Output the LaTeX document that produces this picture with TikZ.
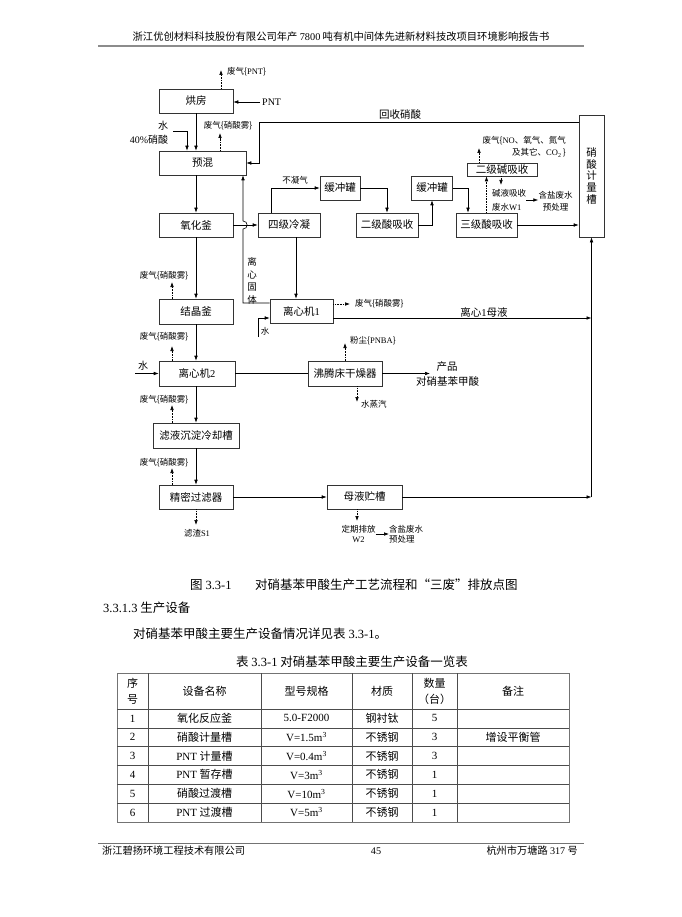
\documentclass[tikz,border=0pt]{standalone}
\usepackage{fontspec}
\setmainfont{Noto Sans CJK SC}
\newfontfamily\tm{Liberation Serif}
\usetikzlibrary{arrows.meta,calc}
\begin{document}
\begin{tikzpicture}[x=1pt,y=-1pt,
  box/.style={draw=black!80, line width=0.6pt, minimum height=24pt, inner sep=0pt, font=\fontsize{10.5}{12}\selectfont},
  lbl/.style={inner sep=0pt, font=\fontsize{8.5}{10}\selectfont},
  mid/.style={inner sep=0pt, font=\fontsize{10}{12}\selectfont},
  big/.style={inner sep=0pt, font=\fontsize{10.5}{12}\selectfont},
  captxt/.style={inner sep=0pt, font=\fontsize{12.5}{14}\selectfont},
  tc/.style={inner sep=0pt, align=center, font=\fontsize{11}{16}\selectfont},
  arr/.style={-{Latex[length=5pt,width=3.6pt]}, line width=0.6pt},
  dots/.style={arr, densely dotted},
  ln/.style={line width=0.6pt},
  tbl/.style={line width=0.6pt, black!70}]
\useasboundingbox (0,0) rectangle (681,917);
\fill[white] (0,0) rectangle (681,917);

% header
\node[inner sep=0pt, font=\fontsize{10.3}{12}\selectfont] (hdr) at (341,37) {浙江优创材料科技股份有限公司年产 {\tm 7800} 吨有机中间体先进新材料技改项目环境影响报告书};
\draw[line width=1.3pt, black!45] (98,46) -- (584,46);

% boxes
\node[box, minimum width=74pt] (hf) at (196,101) {烘房};
\node[box, minimum width=87pt] (yh) at (202.5,163) {预混};
\node[box, minimum width=74pt] (yhf) at (196,225) {氧化釜};
\node[box, minimum width=62pt] (sj) at (289,225) {四级冷凝};
\node[box, minimum width=40pt] (hc1) at (340,188) {缓冲罐};
\node[box, minimum width=62pt] (ej) at (387,225) {二级酸吸收};
\node[box, minimum width=41pt] (hc2) at (432,188) {缓冲罐};
\node[box, minimum width=61pt] (sjs) at (486.5,225) {三级酸吸收};
\node[box, minimum width=70pt, minimum height=13pt] (ejj) at (502,169.5) {二级碱吸收};
\node[box, minimum width=25pt, minimum height=122pt, align=center, font=\fontsize{10.5}{11.7}\selectfont] (xs) at (591.5,176) {硝\\酸\\计\\量\\槽};
\node[box, minimum width=74pt, minimum height=25pt] (jj) at (196,311.5) {结晶釜};
\node[box, minimum width=63pt] (lx1) at (301.5,311) {离心机{\tm 1}};
\node[box, minimum width=76pt, minimum height=25pt] (lx2) at (197,373.5) {离心机{\tm 2}};
\node[box, minimum width=74pt, minimum height=25pt] (ft) at (345,373.5) {沸腾床干燥器};
\node[box, minimum width=86pt, minimum height=25pt] (ly) at (196,435.5) {滤液沉淀冷却槽};
\node[box, minimum width=74pt] (jm) at (196,497) {精密过滤器};
\node[box, minimum width=75pt] (my) at (364.5,497) {母液贮槽};

% top part
\coordinate (pntout) at (221,70);
\draw[dots] (hf.north -| pntout) -- (pntout);
\node[lbl, anchor=west] (gpnt) at (227,72) {废气\{{\tm PNT}\}};
\node[mid, anchor=west, inner sep=2pt] (pnt) at (260,102) {\tm PNT};
\draw[arr] (pnt.west) -- (hf.east |- pnt.west);
\node[mid] (w0) at (163,126) {水};
\node[mid] (hno3) at (149,140) {{\tm 40\%}硝酸};
\coordinate (wj) at (173,131);
\draw[arr] (wj) -| ([xshift=-15.5pt]yh.north);
\draw[arr] (hf.south) -- (hf.south |- yh.north);
\coordinate (g1) at (220,133);
\draw[dots] (yh.north -| g1) -- (g1);
\node[lbl] (gx1) at (228,126) {废气\{硝酸雾\}};

\coordinate (r1) at (259,122);
\draw[arr] (xs.west |- r1) -- (r1) |- (yh.east);
\node[big] (hsxs) at (400,115) {回收硝酸};

\draw[arr] (yhf.north |- yh.south) -- (yhf.north);

\coordinate (r2) at (243,303);
\draw[arr] (lx1.west |- r2) -- (r2) -- (243,229) .. controls (248.5,229) and (248.5,221) .. (243,221) -- (yh.south -| r2);
\node[align=center, font=\fontsize{9.5}{12.5}\selectfont, inner sep=0pt] (lxgt) at (252,281) {离\\心\\固\\体};

\draw[arr] (yhf.east) -- (sj.west);
\coordinate (b1) at (271,188);
\draw[arr] (sj.north -| b1) |- (hc1.west);
\node[lbl] (bng) at (295,180) {不凝气};
\draw[arr] (hc1.east) -| (ej.north);
\draw[arr] (ej.east) -| (hc2.south);
\coordinate (k3) at (468,188);
\draw[arr] (hc2.east) -- (k3) -- (k3 |- sjs.north);
\draw[arr] (sjs.east) -- (sjs.east -| xs.west);
\draw[dots] (sjs.north) -- (sjs.north |- ejj.south);
\coordinate (g2) at (479,148);
\draw[dots] (ejj.north -| g2) -- (g2);
\node[lbl, anchor=east] (gno1) at (566,141) {废气\{{\tm NO}、氧气、氮气};
\node[lbl, anchor=east] (gno2) at (566,153) {及其它、{\tm CO\textsubscript{2}}\,\}};
\coordinate (g3) at (501,185);
\draw[dots] (ejj.south -| g3) -- (g3);
\node[lbl, align=left, anchor=west, font=\fontsize{8.5}{14}\selectfont] (w1) at (492,200) {碱液吸收\\废水{\tm W1}};
\node[lbl, align=center, font=\fontsize{8.5}{12}\selectfont] (hy1) at (555.5,201) {含盐废水\\预处理};
\draw[arr] (w1.east) -- (w1.east -| hy1.west);

% middle
\draw[arr] (yhf.south) -- (jj.north);
\coordinate (g4) at (172,282);
\draw[dots] (jj.north -| g4) -- (g4);
\node[lbl] (gx2) at (164,275.5) {废气\{硝酸雾\}};
\coordinate (p1) at (296,0);
\draw[arr] (sj.south -| p1) -- (lx1.north -| p1);
\coordinate (g5) at (350,304);
\draw[dots] (lx1.east |- g5) -- (g5);
\node[lbl, anchor=west] (gx3) at (355,304) {废气\{硝酸雾\}};
\coordinate (m1) at (0,318);
\draw[arr] (lx1.east |- m1) -- (xs.south |- m1);
\node[big] (lxmy) at (484,312) {离心{\tm 1}母液};
\draw[arr] (my.east) -- (xs.south |- my.east);
\draw[arr] (xs.south |- my.east) -- (xs.south);
\coordinate (w2a) at (258,337);
\coordinate (w2b) at (258,318);
\draw[arr] (w2a) -- (w2b) -- (lx1.west |- w2b);
\node[lbl] (s2) at (265,331) {水};

\draw[arr] (jj.south) -- (jj.south |- lx2.north);
\coordinate (g6) at (172,346);
\draw[dots] (lx2.north -| g6) -- (g6);
\node[lbl] (gx4) at (164,337) {废气\{硝酸雾\}};
\coordinate (w3) at (135,373.5);
\draw[arr] (w3) -- (lx2.west);
\node[mid] (s3) at (143,366) {水};
\draw[ln] (lx2.east) -- (ft.west);
\coordinate (g7) at (345,343);
\draw[dots] (ft.north -| g7) -- (g7);
\node[lbl, anchor=west] (fc) at (350,341) {粉尘\{{\tm PNBA}\}};
\coordinate (g8) at (357,402);
\draw[dots] (ft.south -| g8) -- (g8);
\node[lbl, anchor=west] (szq) at (361,404) {水蒸汽};
\coordinate (prod) at (430,373.5);
\draw[arr] (ft.east) -- (prod);
\node[big] (cp1) at (447,367) {产品};
\node[big] (cp2) at (447.5,382) {对硝基苯甲酸};

% bottom
\draw[arr] (ly.north |- lx2.south) -- (ly.north);
\coordinate (g9) at (172,405);
\draw[dots] (ly.north -| g9) -- (g9);
\node[lbl] (gx5) at (164,399.5) {废气\{硝酸雾\}};
\draw[arr] (ly.south) -- (jm.north);
\coordinate (g10) at (172,468);
\draw[dots] (jm.north -| g10) -- (g10);
\node[lbl] (gx6) at (164,463) {废气\{硝酸雾\}};
\draw[arr] (jm.east) -- (my.west);
\coordinate (g11) at (196,525);
\draw[dots] (jm.south) -- (g11);
\node[lbl] (lz) at (197,533) {滤渣{\tm S1}};
\coordinate (g12) at (357,521);
\draw[dots] (my.south -| g12) -- (g12);
\node[lbl, align=center] (dq) at (358.5,534) {定期排放\\{\tm W2}};
\node[lbl, align=left, anchor=west] (hy2) at (389,534) {含盐废水\\预处理};
\draw[arr] (dq.east) -- (hy2.west);

% caption and text
\node[captxt, anchor=west] (cap1) at (190,585) {图 {\tm 3.3-1}};
\node[captxt, anchor=west] (cap2) at (255,585) {对硝基苯甲酸生产工艺流程和“三废”排放点图};
\node[captxt, anchor=west] (sec) at (103,608) {{\tm 3.3.1.3} 生产设备};
\node[captxt, anchor=west] (body) at (133,634) {对硝基苯甲酸主要生产设备情况详见表 {\tm 3.3-1}。};
\node[captxt] (ttl) at (352,662) {表 {\tm 3.3-1} 对硝基苯甲酸主要生产设备一览表};

% table
\draw[tbl, line width=0.9pt, black!55] (117,673) rectangle (569,822);
\foreach \y in {709,727.8,746.6,765.4,784.2,803} \draw[tbl] (117,\y) -- (569,\y);
\foreach \x in {148,261,352,412,457} \draw[tbl] (\x,673) -- (\x,822);
\node[tc] (h1) at (132.5,691) {序\\号};
\node[tc] (h2) at (204.5,691) {设备名称};
\node[tc] (h3) at (306.5,691) {型号规格};
\node[tc] (h4) at (382,691) {材质};
\node[tc] (h5) at (434.5,691) {数量\\（台）};
\node[tc] (h6) at (513,691) {备注};
\foreach \n/\y/\a/\b/\c/\d/\e in {
  1/718.4/氧化反应釜/{5.0-F2000}/钢衬钛/5/{},
  2/737.2/硝酸计量槽/{V=1.5m\textsuperscript{3}}/不锈钢/3/增设平衡管,
  3/756/{{\tm PNT} 计量槽}/{V=0.4m\textsuperscript{3}}/不锈钢/3/{},
  4/774.8/{{\tm PNT} 暂存槽}/{V=3m\textsuperscript{3}}/不锈钢/1/{},
  5/793.6/硝酸过渡槽/{V=10m\textsuperscript{3}}/不锈钢/1/{},
  6/812.5/{{\tm PNT} 过渡槽}/{V=5m\textsuperscript{3}}/不锈钢/1/{}} {
  \node[tc] (r\n-a) at (132.5,\y) {\tm \n};
  \node[tc] (r\n-b) at (204.5,\y) {\a};
  \node[tc] (r\n-c) at (306.5,\y) {\tm \b};
  \node[tc] (r\n-d) at (382,\y) {\c};
  \node[tc] (r\n-e) at (434.5,\y) {\tm \d};
  \node[tc] (r\n-f) at (513,\y) {\e};
}

% footer
\draw[line width=1pt, black!55] (98,843) -- (584,843);
\node[inner sep=0pt, anchor=west, font=\fontsize{10.2}{12}\selectfont] (ft1) at (102,851) {浙江碧扬环境工程技术有限公司};
\node[inner sep=0pt, font=\fontsize{10.2}{12}\selectfont] (ft2) at (376,851) {\tm 45};
\node[inner sep=0pt, anchor=east, font=\fontsize{10.2}{12}\selectfont] (ft3) at (578,851) {杭州市万塘路 {\tm 317} 号};
\end{tikzpicture}
\end{document}
